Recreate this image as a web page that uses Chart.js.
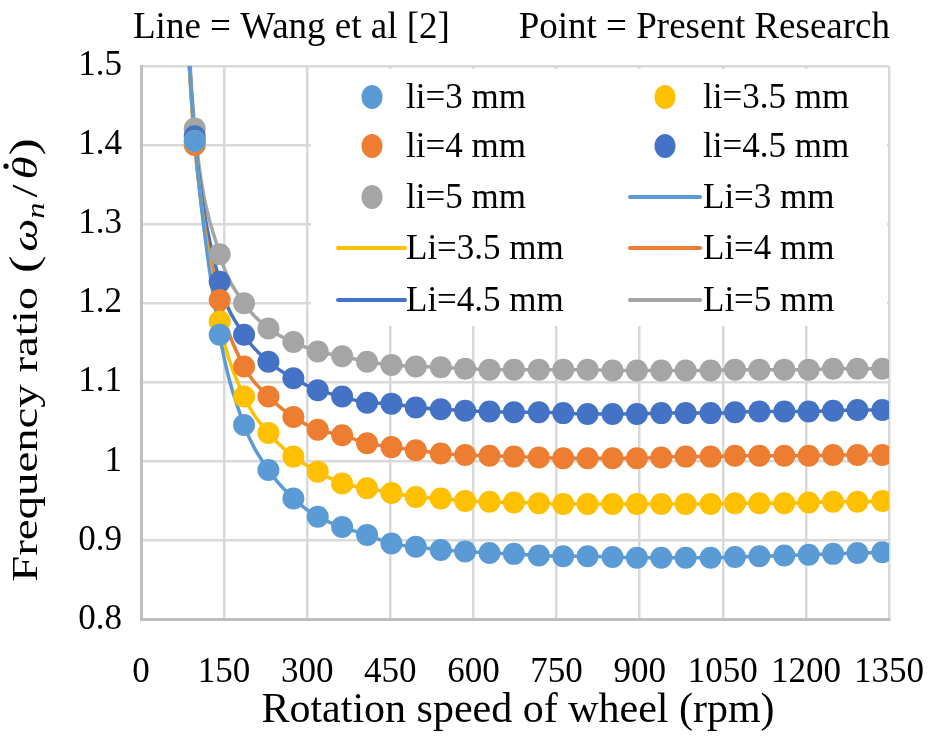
<!DOCTYPE html>
<html>
<head>
<meta charset="utf-8">
<script src="https://cdn.jsdelivr.net/npm/chart.js@4/dist/chart.umd.min.js"></script>
<style>
  html, body { margin: 0; padding: 0; background: #ffffff; }
  #wrap { width: 929px; height: 747px; }
  canvas { display: block; }
</style>
</head>
<body>
<div id="wrap"><canvas id="c" width="929" height="747" style="width:929px;height:747px"></canvas></div>
<script>
// ---------------- DATA ----------------
const speeds = [97, 142, 186, 230, 275, 319, 363, 408, 452, 496, 541, 585, 629, 673, 718,
                762, 806, 851, 895, 939, 983, 1028, 1072, 1116, 1161, 1205, 1249, 1293, 1338];

// Present research (points)
const li3  = [1.405, 1.160, 1.046, 0.989, 0.953, 0.930, 0.917, 0.907, 0.896, 0.892, 0.888, 0.886, 0.884, 0.883, 0.881,
              0.880, 0.880, 0.879, 0.878, 0.878, 0.878, 0.878, 0.879, 0.880, 0.881, 0.882, 0.883, 0.884, 0.885];
const li35 = [1.405, 1.177, 1.082, 1.036, 1.006, 0.987, 0.972, 0.966, 0.960, 0.955, 0.953, 0.950, 0.949, 0.948, 0.947,
              0.946, 0.946, 0.946, 0.946, 0.946, 0.946, 0.946, 0.947, 0.947, 0.947, 0.948, 0.949, 0.949, 0.950];
const li4  = [1.400, 1.204, 1.120, 1.082, 1.056, 1.040, 1.033, 1.023, 1.018, 1.014, 1.010, 1.008, 1.007, 1.006, 1.005,
              1.004, 1.004, 1.004, 1.004, 1.005, 1.006, 1.006, 1.007, 1.007, 1.007, 1.007, 1.008, 1.008, 1.008];
const li45 = [1.411, 1.227, 1.160, 1.126, 1.105, 1.090, 1.082, 1.074, 1.073, 1.068, 1.066, 1.064, 1.063, 1.062, 1.062,
              1.061, 1.060, 1.060, 1.060, 1.061, 1.061, 1.061, 1.062, 1.063, 1.063, 1.063, 1.064, 1.065, 1.065];
const li5  = [1.421, 1.262, 1.200, 1.168, 1.151, 1.139, 1.133, 1.126, 1.122, 1.120, 1.119, 1.117, 1.116, 1.116, 1.116,
              1.116, 1.116, 1.115, 1.115, 1.115, 1.115, 1.115, 1.116, 1.116, 1.116, 1.116, 1.117, 1.117, 1.117];

// Wang et al [2] (lines): same curves, starting above the top of the axis
const lineLeadSpeed = 80;
const lineLead = [1.58, 1.58, 1.58, 1.59, 1.60];

const pointLabels = ['li=3 mm', 'li=3.5 mm', 'li=4 mm', 'li=4.5 mm', 'li=5 mm'];
const lineLabels  = ['Li=3 mm', 'Li=3.5 mm', 'Li=4 mm', 'Li=4.5 mm', 'Li=5 mm'];
const seriesColors = ['#5B9BD5', '#FFC000', '#ED7D31', '#4472C4', '#A5A5A5'];

const xTicks = [0, 150, 300, 450, 600, 750, 900, 1050, 1200, 1350];
const yTicks = [0.8, 0.9, 1.0, 1.1, 1.2, 1.3, 1.4, 1.5];
const yTickLabels = ['0.8', '0.9', '1', '1.1', '1.2', '1.3', '1.4', '1.5'];

const titleLeft = 'Line = Wang et al [2]';
const titleRight = 'Point = Present Research';
const xTitle = 'Rotation speed of wheel (rpm)';

// ---------------- BUILD DATASETS ----------------
const pointSeries = [li3, li35, li4, li45, li5];
const SERIF = '"Liberation Serif", "Times New Roman", serif';

const datasets = [];
pointSeries.forEach((vals, i) => {
  datasets.push({
    label: pointLabels[i],
    kind: 'point',
    data: vals.map((v, k) => ({ x: speeds[k], y: v })),
    showLine: false,
    pointRadius: 11,
    pointHoverRadius: 11,
    pointBorderWidth: 0,
    backgroundColor: seriesColors[i],
    borderColor: seriesColors[i]
  });
});
pointSeries.forEach((vals, i) => {
  const d = [{ x: lineLeadSpeed, y: lineLead[i] }].concat(vals.map((v, k) => ({ x: speeds[k], y: v })));
  datasets.push({
    label: lineLabels[i],
    kind: 'line',
    data: d,
    showLine: true,
    pointRadius: 0,
    pointHoverRadius: 0,
    borderWidth: 3.5,
    borderColor: seriesColors[i],
    backgroundColor: seriesColors[i],
    cubicInterpolationMode: 'monotone',
    fill: false
  });
});

// ---------------- CUSTOM DRAWING (legend box + titles) ----------------
const decor = {
  id: 'decor',
  beforeDatasetsDraw(chart) {
    const ctx = chart.ctx;
    ctx.save();
    // legend background
    ctx.fillStyle = '#ffffff';
    ctx.fillRect(311, 69, 576, 257);
    const rows = [97, 146, 197, 248, 300];
    const cols = [
      { dot: 372, lineA: 338, lineB: 405, text: 406 },
      { dot: 665, lineA: 630, lineB: 700, text: 703 }
    ];
    ctx.font = '35px ' + SERIF;
    ctx.textBaseline = 'middle';
    ctx.textAlign = 'left';
    chart.data.datasets.forEach((ds, i) => {
      const r = Math.floor(i / 2), c = cols[i % 2];
      const y = rows[r];
      if (ds.kind === 'point') {
        ctx.fillStyle = ds.backgroundColor;
        ctx.beginPath();
        ctx.ellipse(c.dot, y, 10.5, 12, 0, 0, Math.PI * 2);
        ctx.fill();
      } else {
        ctx.strokeStyle = ds.borderColor;
        ctx.lineWidth = 4;
        ctx.lineCap = 'round';
        ctx.beginPath();
        ctx.moveTo(c.lineA, y);
        ctx.lineTo(c.lineB, y);
        ctx.stroke();
      }
      ctx.fillStyle = '#000000';
      ctx.fillText(ds.label, c.text, y + 2);
    });
    ctx.restore();
  },
  afterDraw(chart) {
    const ctx = chart.ctx;
    const area = chart.chartArea;
    ctx.save();
    ctx.fillStyle = '#000000';
    // top title
    ctx.font = '37px ' + SERIF;
    ctx.textBaseline = 'alphabetic';
    ctx.textAlign = 'left';
    ctx.fillText(titleLeft, 133, 38);
    ctx.textAlign = 'right';
    ctx.fillText(titleRight, 890, 38);
    // x axis title
    ctx.font = '42px ' + SERIF;
    ctx.textAlign = 'center';
    ctx.fillText(xTitle, (area.left + area.right) / 2 + 3, 722);
    // y axis title (rotated, mixed normal / italic math)
    const sx = 1.3;
    const pieces = [
      { t: 'Frequency ratio ', f: '36px ' + SERIF, dy: 0, gap: 2 },
      { t: '(', f: '40px ' + SERIF, dy: 0, gap: 4 },
      { t: '\u03C9', f: 'italic 36px ' + SERIF, dy: 0, gap: 0 },
      { t: 'n', f: 'italic 25px ' + SERIF, dy: 7, gap: 5 },
      { t: '/', f: '36px ' + SERIF, dy: 0, gap: 5 },
      { t: '\u03B8', f: 'italic 36px ' + SERIF, dy: 0, gap: 1, dot: true },
      { t: ')', f: '40px ' + SERIF, dy: 0, gap: 0 }
    ];
    let total = 0;
    pieces.forEach(p => { ctx.font = p.f; p.w = ctx.measureText(p.t).width * sx; total += p.w + p.gap; });
    ctx.translate(0, 360);
    ctx.rotate(-Math.PI / 2);
    ctx.textAlign = 'left';
    ctx.textBaseline = 'alphabetic';
    let x = -total / 2;
    pieces.forEach(p => {
      ctx.font = p.f;
      ctx.save();
      ctx.translate(x, 37 + p.dy);
      ctx.scale(sx, 1);
      ctx.fillText(p.t, 0, 0);
      ctx.restore();
      if (p.dot) {
        // dot above theta (time derivative)
        ctx.beginPath();
        ctx.arc(x + p.w * 0.58, 37 - 31, 2.6, 0, Math.PI * 2);
        ctx.fill();
      }
      x += p.w + p.gap;
    });
    ctx.restore();
  }
};

// ---------------- CHART ----------------
new Chart(document.getElementById('c'), {
  type: 'scatter',
  data: { datasets: datasets },
  options: {
    responsive: false,
    animation: false,
    events: [],
    layout: { padding: { top: 66, right: 40, left: 0, bottom: 0 } },
    plugins: {
      legend: { display: false },
      title: { display: false },
      tooltip: { enabled: false }
    },
    scales: {
      x: {
        type: 'linear',
        min: xTicks[0],
        max: xTicks[xTicks.length - 1],
        afterBuildTicks: s => { s.ticks = xTicks.map(v => ({ value: v })); },
        afterFit: s => { s.height = 127.5; s.paddingRight = 0; s.paddingLeft = 0; },
        grid: { color: '#D9D9D9', lineWidth: 2.5, drawTicks: false },
        border: { display: true, color: '#BFBFBF', width: 3 },
        ticks: {
          padding: 32,
          color: '#000000',
          font: { family: SERIF, size: 35 },
          maxRotation: 0,
          autoSkip: false,
          callback: v => String(v)
        }
      },
      y: {
        type: 'linear',
        min: yTicks[0],
        max: yTicks[yTicks.length - 1],
        afterBuildTicks: s => { s.ticks = yTicks.map(v => ({ value: v })); },
        afterFit: s => { s.width = 141; s.paddingTop = 0; s.paddingBottom = 0; },
        grid: { color: '#D9D9D9', lineWidth: 2.5, drawTicks: false },
        border: { display: true, color: '#BFBFBF', width: 3 },
        ticks: {
          padding: 19,
          color: '#000000',
          font: { family: SERIF, size: 35 },
          autoSkip: false,
          callback: (v, i) => yTickLabels[i]
        }
      }
    }
  },
  plugins: [decor]
});
</script>
</body>
</html>
